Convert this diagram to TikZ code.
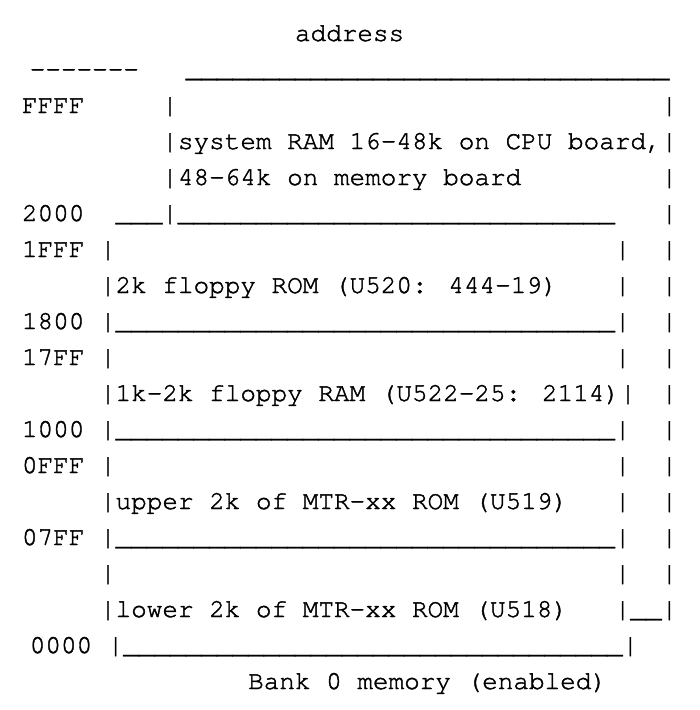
\documentclass[tikz,border=0pt]{standalone}
\usepackage{fontspec}
\newfontfamily\asciifont{texgyrecursor-regular}[Extension=.otf,
  Ligatures={TeXOff,NoCommon}, FakeBold=1.6]
\ExplSyntaxOn
\NewDocumentCommand\unders{m}{\prg_replicate:nn{#1}{\_}}
\ExplSyntaxOff

\begin{document}
\begin{tikzpicture}[
  x=15.6pt, y=-36pt,
  row/.style={anchor=base west, inner sep=0pt, outer sep=0pt,
    font=\asciifont\fontsize{26}{26}\selectfont}
]
  \useasboundingbox (-1.41,-3.139) rectangle (43.46,16.583);

  % heading and top edge
  \node[row] (addr) at (17.5,-2) {address};
  \node[row] (dash) at (0.5,-1) {-------};
  \node[row] (top)  at (10.5,-1) {\unders{31}};

  % system RAM
  \node[row] (ffff)  at (0,0)  {FFFF};
  \node[row] (ffffl) at (9,0)  {|};
  \node[row] (ffffr) at (41,0) {|};
  \node[row] (sys1)  at (9,1)  {|system RAM 16-48k on CPU board,|};
  \node[row] (sys2)  at (9,2)  {|48-64k on memory board};
  \node[row] (sys2r) at (41,2) {|};
  \node[row] (a2000) at (0,3)  {2000};
  \node[row] (sysb)  at (6,3)  {\unders{3}|\unders{28}};
  \node[row] (sysbr) at (41,3) {|};

  % floppy ROM
  \node[row] (a1fff) at (0,4)  {1FFF};
  \node[row] (rom1l) at (5,4)  {|};
  \node[row] (rom1m) at (38,4) {|};
  \node[row] (rom1r) at (41,4) {|};
  \node[row] (rom2)  at (5,5)  {|2k floppy ROM (U520: 444-19)};
  \node[row] (rom2m) at (38,5) {|};
  \node[row] (rom2r) at (41,5) {|};
  \node[row] (a1800) at (0,6)  {1800};
  \node[row] (romb)  at (5,6)  {|\unders{32}|};
  \node[row] (rombr) at (41,6) {|};

  % floppy RAM
  \node[row] (a17ff) at (0,7)  {17FF};
  \node[row] (ram1l) at (5,7)  {|};
  \node[row] (ram1m) at (38,7) {|};
  \node[row] (ram1r) at (41,7) {|};
  \node[row] (ram2)  at (5,8)  {|1k-2k floppy RAM (U522-25: 2114)|};
  \node[row] (ram2r) at (41,8) {|};
  \node[row] (a1000) at (0,9)  {1000};
  \node[row] (ramb)  at (5,9)  {|\unders{32}|};
  \node[row] (rambr) at (41,9) {|};

  % upper MTR ROM
  \node[row] (a0fff) at (0,10)  {0FFF};
  \node[row] (up1l)  at (5,10)  {|};
  \node[row] (up1m)  at (38,10) {|};
  \node[row] (up1r)  at (41,10) {|};
  \node[row] (up2)   at (5,11)  {|upper 2k of MTR-xx ROM (U519)};
  \node[row] (up2m)  at (38,11) {|};
  \node[row] (up2r)  at (41,11) {|};
  \node[row] (a07ff) at (0,12)  {07FF};
  \node[row] (upb)   at (5,12)  {|\unders{32}|};
  \node[row] (upbr)  at (41,12) {|};

  % lower MTR ROM
  \node[row] (lo1l)  at (5,13)  {|};
  \node[row] (lo1m)  at (38,13) {|};
  \node[row] (lo1r)  at (41,13) {|};
  \node[row] (lo2)   at (5,14)  {|lower 2k of MTR-xx ROM (U518)};
  \node[row] (lo2r)  at (38,14) {|\unders{2}|};
  \node[row] (a0000) at (0.5,15) {0000};
  \node[row] (lob)   at (5.5,15) {|\unders{32}|};

  \node[row] (bank) at (14.5,16) {Bank 0 memory (enabled)};
\end{tikzpicture}
\end{document}
